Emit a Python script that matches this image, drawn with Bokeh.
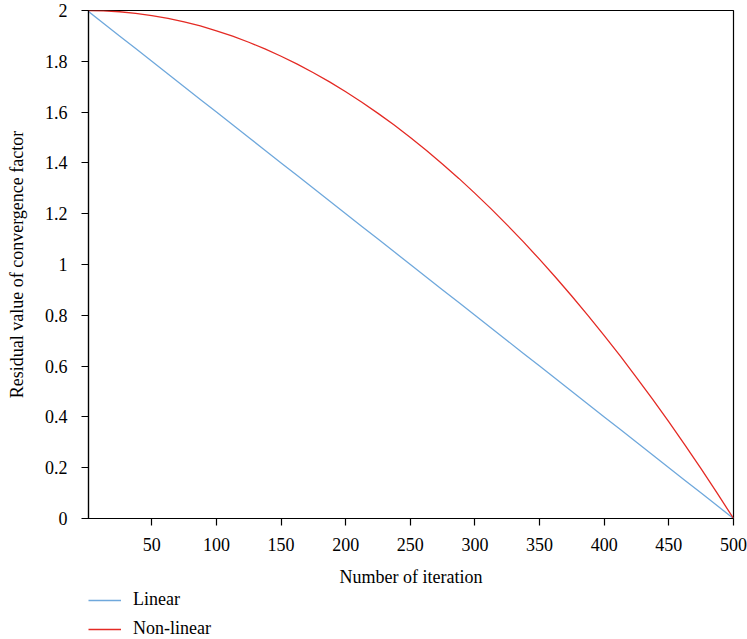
from bokeh.plotting import figure
from bokeh.layouts import column
from bokeh.models import Range1d, FixedTicker, CustomJSTickFormatter, Legend, LegendItem
from bokeh.embed import file_html
from bokeh.resources import INLINE

iterations = [0, 12.5, 25, 37.5, 50, 62.5, 75, 87.5, 100, 112.5, 125, 137.5, 150, 162.5, 175, 187.5,
              200, 212.5, 225, 237.5, 250, 262.5, 275, 287.5, 300, 312.5, 325, 337.5, 350, 362.5,
              375, 387.5, 400, 412.5, 425, 437.5, 450, 462.5, 475, 487.5, 500]
linear = [2.0, 1.95, 1.9, 1.85, 1.8, 1.75, 1.7, 1.65, 1.6, 1.55, 1.5, 1.45, 1.4, 1.35, 1.3, 1.25,
          1.2, 1.15, 1.1, 1.05, 1.0, 0.95, 0.9, 0.85, 0.8, 0.75, 0.7, 0.65, 0.6, 0.55,
          0.5, 0.45, 0.4, 0.35, 0.3, 0.25, 0.2, 0.15, 0.1, 0.05, 0.0]
nonlinear = [2.0, 1.999, 1.995, 1.989, 1.98, 1.969, 1.955, 1.939, 1.92, 1.899, 1.875, 1.849, 1.82, 1.789,
             1.755, 1.719, 1.68, 1.639, 1.595, 1.549, 1.5, 1.449, 1.395, 1.339, 1.28, 1.219, 1.155,
             1.089, 1.02, 0.949, 0.875, 0.799, 0.72, 0.639, 0.555, 0.469, 0.38, 0.289, 0.195, 0.099, 0.0]
x_ticks = [50, 100, 150, 200, 250, 300, 350, 400, 450, 500]
y_ticks = [0, 0.2, 0.4, 0.6, 0.8, 1.0, 1.2, 1.4, 1.6, 1.8, 2.0]
series_names = ["Linear", "Non-linear"]
series_colors = ["#6fa8dc", "#e42a24"]

FONT = "Liberation Serif"

p = figure(width=747, height=590, output_backend="svg", toolbar_location=None,
           x_range=Range1d(1, 500), y_range=Range1d(0, 2),
           min_border_left=88, min_border_right=14, min_border_top=10, min_border_bottom=72)
p.grid.visible = False
p.outline_line_color = "black"
p.outline_line_width = 1.2
p.background_fill_color = "white"
p.border_fill_color = "white"

p.line(iterations, linear, line_color=series_colors[0], line_width=1.3)
p.line(iterations, nonlinear, line_color=series_colors[1], line_width=1.3)

for ax in (p.xaxis[0], p.yaxis[0]):
    ax.axis_line_color = "black"
    ax.axis_line_width = 1.2
    ax.major_tick_line_color = "black"
    ax.major_tick_line_width = 1.2
    ax.major_tick_in = 0
    ax.major_tick_out = 7
    ax.minor_tick_line_color = None
    ax.major_label_text_font = FONT
    ax.major_label_text_font_size = "18px"
    ax.major_label_text_color = "black"
    ax.axis_label_text_font = FONT
    ax.axis_label_text_font_size = "18px"
    ax.axis_label_text_font_style = "normal"
    ax.axis_label_text_color = "black"

p.xaxis[0].ticker = FixedTicker(ticks=x_ticks)
p.yaxis[0].ticker = FixedTicker(ticks=y_ticks)
p.yaxis[0].formatter = CustomJSTickFormatter(code="return String(Math.round(tick*10)/10);")
p.xaxis[0].axis_label = "Number of iteration"
p.yaxis[0].axis_label = "Residual value of convergence factor"
p.xaxis[0].major_label_standoff = 12
p.xaxis[0].axis_label_standoff = 13
p.yaxis[0].major_label_standoff = 14
p.yaxis[0].axis_label_standoff = 15

# legend figure below the chart (lines drawn outside its visible range)
lg = figure(width=747, height=49, output_backend="svg", toolbar_location=None,
            x_range=Range1d(1000, 1100), y_range=Range1d(1000, 1100),
            min_border=0, outline_line_color=None)
lg.axis.visible = False
lg.grid.visible = False
lr1 = lg.line(iterations, linear, line_color=series_colors[0], line_width=1.3)
lr2 = lg.line(iterations, nonlinear, line_color=series_colors[1], line_width=1.3)
legend = Legend(items=[LegendItem(label=series_names[0], renderers=[lr1]),
                       LegendItem(label=series_names[1], renderers=[lr2])],
                location=(0, 0), orientation="vertical",
                border_line_color=None, background_fill_alpha=0,
                padding=0, margin=0, spacing=8,
                glyph_width=33, glyph_height=20, label_height=20,
                label_standoff=12,
                label_text_font=FONT, label_text_font_size="18px", label_text_color="black")
lg.add_layout(legend, "center")

layout = column(p, lg, spacing=0)
open("out.html", "w").write(file_html(layout, INLINE))
